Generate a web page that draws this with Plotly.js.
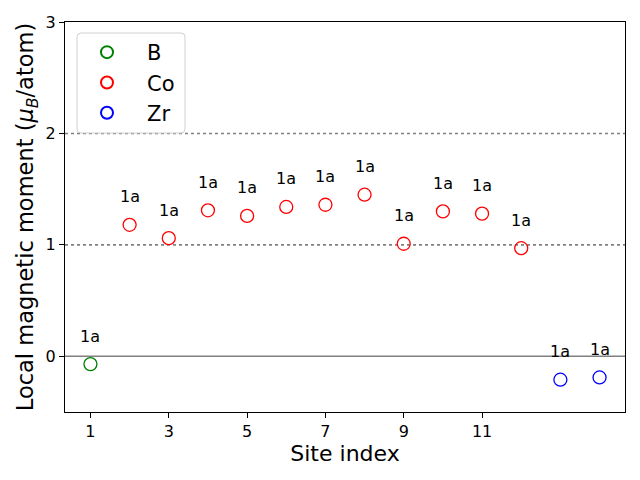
<!DOCTYPE html>
<html>
<head>
<meta charset="utf-8">
<script src="https://cdn.plot.ly/plotly-3.0.1.min.js"></script>
<style>html,body{margin:0;padding:0;background:#fff}#chart{width:640px;height:480px}</style>
</head>
<body>
<div id="chart"></div>
<script>
const elements = ["B", "Co", "Zr"];
const colors = ["green", "red", "blue"];
const sitesB = [1];
const momentsB = [-0.07];
const sitesCo = [2, 3, 4, 5, 6, 7, 8, 9, 10, 11, 12];
const momentsCo = [1.18, 1.06, 1.31, 1.26, 1.34, 1.36, 1.45, 1.01, 1.30, 1.28, 0.97];
const sitesZr = [13, 14];
const momentsZr = [-0.21, -0.19];
const wyckoffB = ["1a"];
const wyckoffCo = ["1a","1a","1a","1a","1a","1a","1a","1a","1a","1a","1a"];
const wyckoffZr = ["1a","1a"];
const xTickVals = [1, 3, 5, 7, 9, 11];
const yTickVals = [0, 1, 2, 3];
const refLines = [1, 2];

const groups = [
  {name: elements[0], x: sitesB, y: momentsB, lab: wyckoffB, c: colors[0]},
  {name: elements[1], x: sitesCo, y: momentsCo, lab: wyckoffCo, c: colors[1]},
  {name: elements[2], x: sitesZr, y: momentsZr, lab: wyckoffZr, c: colors[2]}
];

const pad = "\u00a0\u00a0\u00a0";
const traces = groups.map(g => ({
  type: "scatter", mode: "markers", name: pad + g.name, x: g.x, y: g.y,
  marker: {symbol: "circle-open", size: 13, color: g.c, line: {width: 1.3, color: g.c}}
}));

const annotations = [];
groups.forEach(g => g.x.forEach((xv, i) => annotations.push({
  x: xv, y: g.y[i], xref: "x", yref: "y", text: g.lab[i], showarrow: false,
  yshift: 28, font: {size: 16, color: "#000", family: "DejaVu Sans"}
})));

// legend frame (rounded box like matplotlib), in paper coords
const fx0 = (77 - 65) / 560, fx1 = (185 - 65) / 560;
const fy1 = (412 - 33) / 390, fy0 = (412 - 133) / 390;
const rx = 4 / 560, ry = 4 / 390;
const framePath = `M ${fx0 + rx} ${fy1} L ${fx1 - rx} ${fy1} Q ${fx1} ${fy1} ${fx1} ${fy1 - ry} ` +
  `L ${fx1} ${fy0 + ry} Q ${fx1} ${fy0} ${fx1 - rx} ${fy0} L ${fx0 + rx} ${fy0} Q ${fx0} ${fy0} ${fx0} ${fy0 + ry} ` +
  `L ${fx0} ${fy1 - ry} Q ${fx0} ${fy1} ${fx0 + rx} ${fy1} Z`;

const shapes = [
  {type: "line", xref: "paper", x0: 0, x1: 1, yref: "y", y0: 0, y1: 0,
   line: {color: "#808080", width: 1.6}, layer: "below"}
].concat(refLines.map(v => ({
  type: "line", xref: "paper", x0: 0, x1: 1, yref: "y", y0: v, y1: v,
  line: {color: "#808080", width: 1.6, dash: "dot"}, layer: "below"
}))).concat([{
  type: "path", xref: "paper", yref: "paper", path: framePath,
  fillcolor: "rgba(255,255,255,0.8)", line: {color: "#d0d0d0", width: 1}, layer: "above"
}]);

const layout = {
  width: 640, height: 480,
  margin: {l: 65, r: 15, t: 22, b: 68},
  paper_bgcolor: "#fff", plot_bgcolor: "#fff",
  font: {family: "DejaVu Sans", color: "#000"},
  showlegend: true,
  legend: {x: (87 - 65) / 560, y: (412 - 32) / 390, xanchor: "left", yanchor: "top",
    bgcolor: "rgba(0,0,0,0)", borderwidth: 0,
    font: {size: 21, family: "DejaVu Sans"}, itemsizing: "constant"},
  xaxis: {range: [0.35, 14.65], tickvals: xTickVals, ticks: "outside", ticklen: 5,
    tickwidth: 1, tickcolor: "#000", showgrid: false, zeroline: false,
    showline: true, linecolor: "#000", linewidth: 1, mirror: true,
    tickfont: {size: 16}, title: {text: "Site index", font: {size: 22}, standoff: 3}},
  yaxis: {range: [-0.5, 3], tickvals: yTickVals, ticks: "outside", ticklen: 5,
    tickwidth: 1, tickcolor: "#000", showgrid: false, zeroline: false,
    showline: true, linecolor: "#000", linewidth: 1, mirror: true,
    tickfont: {size: 16},
    title: {text: "Local magnetic moment (<i>μ</i><sub><i>B</i></sub>/atom)", font: {size: 22.5}, standoff: 5}},
  shapes: shapes,
  annotations: annotations
};

Plotly.newPlot("chart", traces, layout, {displayModeBar: false, staticPlot: true});
</script>
</body>
</html>
